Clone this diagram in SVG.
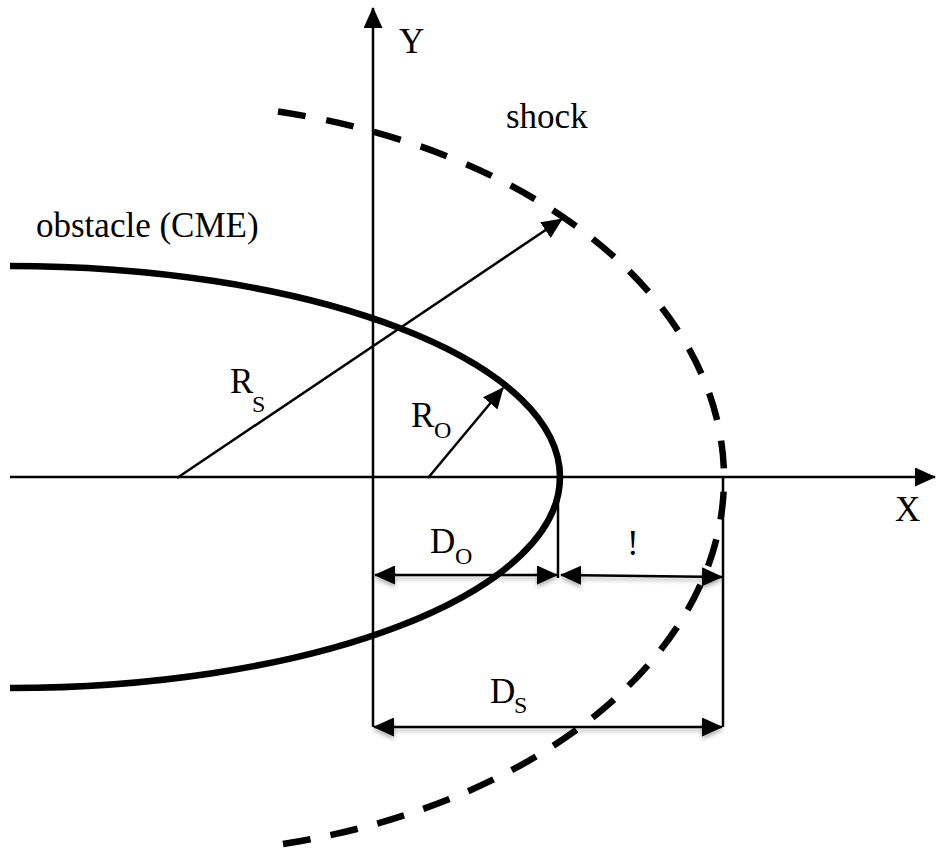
<svg xmlns="http://www.w3.org/2000/svg" width="936" height="851" viewBox="0 0 936 851">
<style>
.lbl{font-family:"Liberation Serif","Times New Roman",serif;font-size:35px;fill:#000}
.sub{font-family:"Liberation Serif","Times New Roman",serif;font-size:24px;fill:#000}
.ax{stroke:#000;stroke-width:2.5;fill:none}
.dim{stroke:#000;stroke-width:2.5;fill:none}
.obst{stroke:#000;stroke-width:6.5;fill:none}
.shock{stroke:#000;stroke-width:6.5;fill:none}
.top{stroke-dasharray:28 21}
.bot{stroke-dasharray:28 20.25}
</style>
<defs>
<marker id="ah" viewBox="0 0 21 19" markerWidth="21" markerHeight="19" refX="20" refY="9.5" orient="auto-start-reverse" markerUnits="userSpaceOnUse">
<path d="M0,0 L21,9.5 L0,19 z" fill="#000"/>
</marker>
<filter id="sh" x="-5%" y="-100%" width="110%" height="300%">
<feDropShadow dx="0" dy="3" stdDeviation="2" flood-color="#000" flood-opacity="0.3"/>
</filter>
</defs>
<rect width="936" height="851" fill="#fff"/>
<g id="axes">
<line class="ax" x1="373" y1="727" x2="373" y2="8" marker-end="url(#ah)"/>
<line class="ax" x1="10" y1="477" x2="935" y2="477" marker-end="url(#ah)"/>
<text class="lbl" x="399" y="53">Y</text>
<text class="lbl" x="895" y="521">X</text>
</g>
<g id="obstacle">
<path class="obst" d="M10,266 A550,211 0 0 1 560,477 A550,211 0 0 1 10,688"/>
<text class="lbl" x="36" y="237">obstacle (CME)</text>
</g>
<g id="shock">
<path class="shock top" d="M278,111.5 A574,376 0 0 1 724,478"/>
<path class="shock bot" d="M283,844 A574,376 0 0 0 724,478"/>
<text class="lbl" x="506" y="128">shock</text>
</g>
<g id="connectors">
<line class="dim" x1="177" y1="478" x2="562" y2="219" marker-end="url(#ah)"/>
<line class="dim" x1="428" y1="478" x2="503" y2="388" marker-end="url(#ah)"/>
<line class="dim" x1="558" y1="477" x2="558" y2="578"/>
<line class="dim" x1="723" y1="477" x2="723" y2="727"/>
<g filter="url(#sh)">
<line class="dim" x1="375" y1="575" x2="557" y2="575" marker-start="url(#ah)" marker-end="url(#ah)"/>
<line class="dim" x1="561" y1="575" x2="722" y2="577" marker-start="url(#ah)" marker-end="url(#ah)"/>
<line class="dim" x1="374" y1="727" x2="722" y2="727" marker-start="url(#ah)" marker-end="url(#ah)"/>
</g>
</g>
<g id="labels">
<text class="lbl" x="230" y="393">R</text><text class="sub" x="252" y="412">S</text>
<text class="lbl" x="411" y="427">R</text><text class="sub" x="434" y="438">O</text>
<text class="lbl" x="430" y="553">D</text><text class="sub" x="455" y="564">O</text>
<text class="lbl" x="627" y="555">!</text>
<text class="lbl" x="490" y="703">D</text><text class="sub" x="514" y="713">S</text>
</g>
</svg>
